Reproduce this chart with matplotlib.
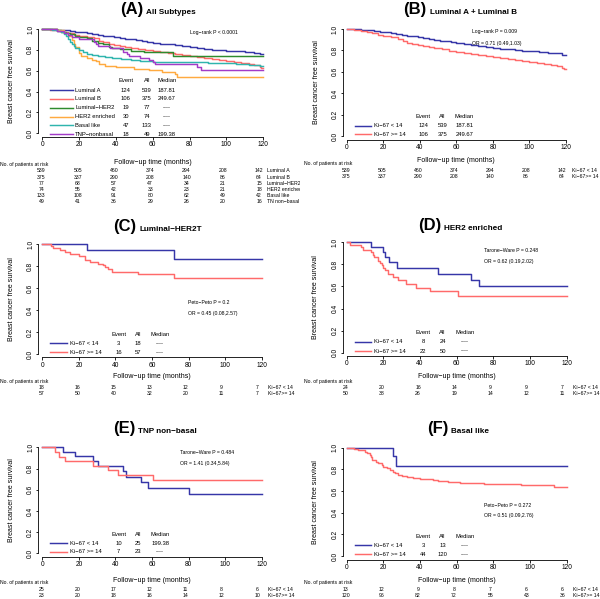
import matplotlib
matplotlib.use("Agg")
import matplotlib.pyplot as plt
from matplotlib.transforms import Bbox, TransformedBbox, blended_transform_factory

plt.rcParams['font.family'] = ['Liberation Sans', 'DejaVu Sans']

# ---- Kaplan-Meier curves: drop times (months) and survival after each drop
lumA_t = [0, 4, 8, 12, 15, 18, 21, 24, 27, 30, 33, 36, 39, 42, 45, 48, 51, 54, 57, 60,
          64, 68, 72, 76, 80, 84, 88, 92, 96, 100, 105, 110, 115, 118]
lumA_s = [1.0, 0.998, 0.995, 0.99, 0.984, 0.976, 0.968, 0.96, 0.952, 0.945, 0.937, 0.93,
          0.922, 0.915, 0.908, 0.9, 0.892, 0.884, 0.876, 0.868, 0.86, 0.852, 0.843, 0.834,
          0.825, 0.817, 0.809, 0.802, 0.796, 0.79, 0.785, 0.779, 0.772, 0.76]
lumB_t = [0, 4, 8, 11, 14, 17, 20, 24, 28, 31, 33, 36, 39, 42, 45, 48, 52, 56, 60, 64, 68,
          72, 76, 80, 84, 88, 92, 96, 100, 104, 108, 112, 115, 118, 119]
lumB_s = [1.0, 0.992, 0.982, 0.97, 0.958, 0.945, 0.935, 0.922, 0.91, 0.885, 0.872, 0.86,
          0.849, 0.838, 0.829, 0.82, 0.81, 0.797, 0.785, 0.778, 0.768, 0.757, 0.748, 0.74,
          0.73, 0.722, 0.713, 0.705, 0.695, 0.684, 0.674, 0.662, 0.652, 0.64, 0.625]
lumH_t = [0, 8, 10, 13, 15, 18, 20, 24, 27, 30, 33, 36, 38, 42, 48, 55, 71]
lumH_s = [1.0, 0.987, 0.974, 0.961, 0.948, 0.935, 0.922, 0.909, 0.883, 0.87, 0.857, 0.83,
          0.817, 0.804, 0.791, 0.778, 0.745]
her2_t = [0, 8, 12, 14, 16, 17, 18, 20, 21, 24, 27, 29, 31, 34, 40, 50, 58, 65, 72, 73]
her2_s = [1.0, 0.986, 0.96, 0.93, 0.89, 0.86, 0.83, 0.77, 0.745, 0.72, 0.705, 0.69, 0.665,
          0.65, 0.635, 0.62, 0.605, 0.59, 0.565, 0.535]
basal_t = [0, 5, 8, 10, 12, 13, 14, 15, 16, 17, 18, 20, 22, 24, 27, 30, 34, 38, 43, 48, 53,
           60, 70, 90, 105, 112, 118]
basal_s = [1.0, 0.992, 0.985, 0.97, 0.955, 0.93, 0.9, 0.875, 0.855, 0.835, 0.815, 0.795,
           0.78, 0.765, 0.752, 0.74, 0.728, 0.72, 0.71, 0.70, 0.693, 0.685, 0.68, 0.675,
           0.665, 0.655, 0.645]
tnp_t = [0, 8, 12, 14, 16, 20, 28, 29, 30, 37, 44, 46, 47, 53, 58, 60, 61, 84, 86]
tnp_s = [1.0, 0.98, 0.96, 0.94, 0.92, 0.90, 0.88, 0.86, 0.84, 0.82, 0.78, 0.76, 0.74, 0.72,
         0.70, 0.68, 0.665, 0.64, 0.61]

c_lo_t = [0, 24.3, 71.9]
c_lo_s = [1.0, 0.944, 0.865]
c_hi_t = [0, 4.5, 6, 9.6, 12.4, 15, 19.8, 23.4, 26.1, 30.7, 33, 34.3, 36.1, 37.9, 52.5, 72]
c_hi_s = [1.0, 0.982, 0.965, 0.947, 0.929, 0.911, 0.89, 0.858, 0.84, 0.82, 0.808, 0.793,
          0.772, 0.75, 0.727, 0.695]
d_lo_t = [0, 13.5, 20, 21, 23, 27.5, 50, 68, 72]
d_lo_s = [1.0, 0.958, 0.912, 0.866, 0.82, 0.768, 0.716, 0.66, 0.603]
d_hi_t = [0, 2, 8, 9, 13, 14.4, 15, 17, 18, 19, 20, 21, 22.5, 25.3, 28, 32.5, 38, 45.3, 60.7]
d_hi_s = [1.0, 0.98, 0.96, 0.93, 0.91, 0.885, 0.865, 0.835, 0.81, 0.79, 0.765, 0.745, 0.71,
          0.685, 0.655, 0.625, 0.59, 0.56, 0.515]
e_lo_t = [0, 11.5, 18, 27.7, 30.5, 44.4, 45.8, 54, 58, 80.5]
e_lo_s = [1.0, 0.96, 0.915, 0.87, 0.822, 0.776, 0.724, 0.67, 0.614, 0.558]
e_hi_t = [0, 7, 9.3, 12.3, 27.6, 36.2, 41.6, 60.5]
e_hi_s = [1.0, 0.957, 0.913, 0.87, 0.826, 0.783, 0.739, 0.696]
f_lo_t = [0, 25, 26.7]
f_lo_s = [1.0, 0.923, 0.835]
f_hi_t = [0, 4, 6, 8, 10, 11, 12.5, 13.5, 14, 16, 17, 19, 20, 22, 23.5, 25, 26.5, 28, 30, 33,
          36, 40, 47, 50, 55, 62, 75, 95, 113]
f_hi_s = [1.0, 0.992, 0.983, 0.975, 0.958, 0.95, 0.935, 0.91, 0.89, 0.87, 0.855, 0.84, 0.825,
          0.81, 0.795, 0.78, 0.765, 0.752, 0.742, 0.73, 0.72, 0.708, 0.70, 0.69, 0.682, 0.672,
          0.668, 0.655, 0.64]

# ---- numbers at risk
risk_times = [0, 20, 40, 60, 80, 100, 120]
risk_lumA = [539, 505, 460, 374, 294, 208, 142]
risk_lumB = [375, 337, 290, 208, 140, 86, 64]
risk_lumH = [77, 68, 57, 47, 34, 21, 15]
risk_her2 = [74, 55, 42, 33, 23, 21, 18]
risk_basal = [133, 108, 91, 80, 62, 49, 42]
risk_tnp = [49, 41, 36, 29, 26, 20, 16]
risk_c = [[18, 16, 15, 13, 12, 9, 7], [57, 50, 40, 32, 20, 11, 7]]
risk_d = [[24, 20, 16, 14, 9, 9, 7], [50, 38, 26, 19, 14, 12, 11]]
risk_e = [[25, 20, 17, 12, 11, 8, 6], [23, 20, 18, 16, 14, 12, 10]]
risk_f = [[13, 12, 9, 8, 7, 6, 6], [120, 96, 82, 72, 55, 43, 36]]

BLUE = '#3636a8'
RED = '#ff6a6a'
GREEN = '#2e8b2e'
ORANGE = '#ffaa40'
TEAL = '#2fb5ad'
PURPLE = '#a23cc8'

KI_LO, KI_HI = 'Ki\u221267 < 14', 'Ki\u221267 >= 14'
KI_LO_R, KI_HI_R = 'Ki\u221267 < 14', 'Ki\u221267>= 14'

panels = [
    dict(letter='(A)', sub='All Subtypes', geo=(42.3, 263.3, 29, 133.3), split=145, base=14,
         ylab_x=11.7, xlab_y=162.3, risk_y=171, tile=0,
         stats=[('Log\u2212rank P < 0.0001', 80, 0.97)], wide=True,
         curves=[(lumA_t, lumA_s, BLUE, 'Luminal A', '124', '539', '187.81', 'Luminal A', risk_lumA),
                 (lumB_t, lumB_s, RED, 'Luminal B', '106', '375', '249.67', 'Luminal B', risk_lumB),
                 (lumH_t, lumH_s, GREEN, 'Luminal\u2212HER2', '19', '77', '----', 'Luminal\u2212HER2', risk_lumH),
                 (her2_t, her2_s, ORANGE, 'HER2 enriched', '30', '74', '----', 'HER2 enriched', risk_her2),
                 (basal_t, basal_s, TEAL, 'Basal like', '47', '133', '----', 'Basal like', risk_basal),
                 (tnp_t, tnp_s, PURPLE, 'TNP\u2212nonbasal', '18', '49', '199.38', 'TN non\u2212basal', risk_tnp)]),
    dict(letter='(B)', sub='Luminal A + Luminal B', geo=(346.7, 566, 29, 136), split=428, base=14,
         ylab_x=316.7, xlab_y=160.7, risk_y=170.7, tile=300,
         stats=[('Log\u2212rank P = 0.009', 68.3, 0.972), ('OR = 0.71 (0.49,1.03)', 68.3, 0.869)],
         curves=[(lumA_t, lumA_s, BLUE, KI_LO, '124', '539', '187.81', KI_LO_R, risk_lumA),
                 (lumB_t, lumB_s, RED, KI_HI, '106', '375', '249.67', KI_HI_R, risk_lumB)]),
    dict(letter='(C)', sub='Luminal\u2212HER2T', geo=(42.3, 261.7, 244.3, 354), split=137.5, base=230.7,
         ylab_x=11.7, xlab_y=376.7, risk_y=387.7, tile=0,
         stats=[('Peto\u2212Peto P = 0.2', 79.8, 0.474), ('OR = 0.45 (0.08,2.57)', 79.8, 0.37)],
         curves=[(c_lo_t, c_lo_s, BLUE, KI_LO, '3', '18', '----', KI_LO_R, risk_c[0]),
                 (c_hi_t, c_hi_s, RED, KI_HI, '16', '57', '----', KI_HI_R, risk_c[1])]),
    dict(letter='(D)', sub='HER2 enriched', geo=(346.7, 566.7, 242.3, 352.7), split=443, base=230,
         ylab_x=316, xlab_y=376.7, risk_y=387.7, tile=300,
         stats=[('Tarone\u2212Ware P = 0.248', 75, 0.925), ('OR = 0.62 (0.19,2.02)', 75, 0.825)],
         curves=[(d_lo_t, d_lo_s, BLUE, KI_LO, '8', '24', '----', KI_LO_R, risk_d[0]),
                 (d_hi_t, d_hi_s, RED, KI_HI, '22', '50', '----', KI_HI_R, risk_d[1])]),
    dict(letter='(E)', sub='TNP non\u2212basal', geo=(42.3, 261.7, 447.3, 553.3), split=136.7, base=433,
         ylab_x=11.7, xlab_y=580.3, risk_y=589.3, tile=0,
         stats=[('Tarone\u2212Ware P = 0.484', 75.3, 0.95), ('OR = 1.41 (0.34,5.84)', 75.3, 0.849)],
         curves=[(e_lo_t, e_lo_s, BLUE, KI_LO, '10', '25', '199.38', KI_LO_R, risk_e[0]),
                 (e_hi_t, e_hi_s, RED, KI_HI, '7', '23', '----', KI_HI_R, risk_e[1])]),
    dict(letter='(F)', sub='Basal like', geo=(346.7, 566.7, 447.7, 556), split=450, base=433,
         ylab_x=316, xlab_y=580.3, risk_y=589.3, tile=300,
         stats=[('Peto\u2212Peto P = 0.272', 75, 0.47), ('OR = 0.51 (0.09,2.76)', 75, 0.37)],
         curves=[(f_lo_t, f_lo_s, BLUE, KI_LO, '3', '13', '----', KI_LO_R, risk_f[0]),
                 (f_hi_t, f_hi_s, RED, KI_HI, '44', '120', '----', KI_HI_R, risk_f[1])]),
]

W, H = 600, 599
fig = plt.figure(figsize=(W / 100, H / 100), dpi=100)


def fx(x):
    return x / W


def fy(y):
    return 1 - y / H


for p in panels:
    x0, x120, y1, y0 = p['geo']
    xr, yr = x120 - x0, y0 - y1
    l, r = x0 - 0.04 * xr, x120 + 0.04 * xr
    t, b = y1 - 0.04 * yr, y0 + 0.04 * yr
    ax = fig.add_axes([fx(l), fy(b), (r - l) / W, (b - t) / H])
    ax.set_xlim(-4.8, 124.8)
    ax.set_ylim(-0.04, 1.04)
    ax.patch.set_visible(False)
    for s in ['top', 'right']:
        ax.spines[s].set_visible(False)
    ax.spines['left'].set_position(('data', -4.0 * 120 / xr))
    ax.spines['bottom'].set_position(('data', -3.5 / yr))
    ax.spines['left'].set_bounds(0, 1)
    ax.spines['bottom'].set_bounds(0, 120)
    for s in ['left', 'bottom']:
        ax.spines[s].set_linewidth(0.6)
    ax.set_xticks(risk_times)
    ax.set_yticks([0, 0.2, 0.4, 0.6, 0.8, 1.0])
    ax.set_yticklabels(['0.0', '0.2', '0.4', '0.6', '0.8', '1.0'], rotation=90, va='center')
    ax.tick_params(length=1.8, width=0.6, labelsize=4.8, pad=1.2)

    clip = TransformedBbox(Bbox([[fx(p['tile']), 0], [fx(p['tile'] + 300), 1]]), fig.transFigure)
    rtrans = blended_transform_factory(ax.transData, fig.transFigure)

    n = len(p['curves'])
    wide = p.get('wide', False)
    key0, key1, lab_x = (4.2, 16.9, 17.8) if wide else (4.4, 13.5, 14.9)
    ev_x, all_x, med_x = (45.3, 56.7, 67.6) if wide else (41.8, 52.3, 64.5)
    row_h = 0.085 if wide else 0.082
    last_row = -0.01 if wide else 0.015
    rows = [last_row + row_h * (n - 1 - i) for i in range(n)]
    head_y = rows[0] + row_h + 0.003
    for hx, ht in [(ev_x, 'Event'), (all_x, 'All'), (med_x, 'Median')]:
        ax.text(hx, head_y, ht, fontsize=4.2, ha='center', va='center')

    lab_rx = 122 if wide else 123.5
    for i, (ct, cs, col, lab, ev, al, med, rlab, risk) in enumerate(p['curves']):
        ax.step(ct + [120], cs + [cs[-1]], where='post', color=col, lw=1.05, clip_on=False)
        ax.plot([key0, key1], [rows[i], rows[i]], color=col, lw=1.05)
        ax.text(lab_x, rows[i], lab, fontsize=4.2, ha='left', va='center')
        ax.text(ev_x, rows[i], ev, fontsize=4.2, ha='center', va='center')
        ax.text(all_x, rows[i], al, fontsize=4.2, ha='center', va='center')
        ax.text(med_x, rows[i], med, fontsize=4.2, ha='center', va='center')
        ry = fy(p['risk_y'] + 6.05 * i)
        for rt, rv in zip(risk_times, risk):
            ax.text(rt * 0.985 - 0.5, ry, str(rv), transform=rtrans, fontsize=3.7,
                    ha='center', va='center', clip_on=False)
        tx = ax.text(lab_rx, ry, rlab, transform=rtrans, fontsize=3.7, ha='left', va='center')
        tx.set_clip_box(clip)
        tx.set_clip_on(True)

    for st, sx, sy in p['stats']:
        ax.text(sx, sy, st, fontsize=3.7, ha='left', va='center')

    # titles and axis labels
    fig.text(fx(p['split'] - 1.5), fy(p['base']), p['letter'], fontsize=12, fontweight='bold',
             ha='right', va='baseline')
    fig.text(fx(p['split'] + 1.5), fy(p['base']), p['sub'], fontsize=5.9, fontweight='bold',
             ha='left', va='baseline')
    fig.text(fx(p['ylab_x']), fy((y1 + y0) / 2), 'Breast cancer free survival', fontsize=5,
             rotation=90, ha='center', va='center')
    fig.text(fx((x0 + x120) / 2), fy(p['xlab_y']), 'Follow\u2212up time (months)', fontsize=5,
             ha='center', va='center')
    fig.text(fx(x0 - 42.3), fy(p['risk_y'] - 6.7), 'No. of patients at risk', fontsize=3.7,
             ha='left', va='center')

fig.savefig('out.png', dpi=100)
